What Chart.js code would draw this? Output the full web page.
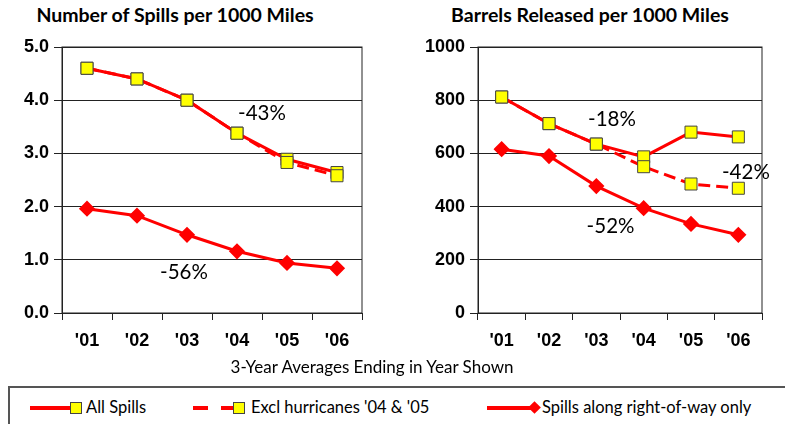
<!DOCTYPE html>
<html>
<head>
<meta charset="utf-8">
<script src="https://cdn.jsdelivr.net/npm/chart.js@4.4.0/dist/chart.umd.min.js"></script>
<style>
body{margin:0;background:#fff;width:785px;height:424px;overflow:hidden;position:relative;font-family:Lato,"Open Sans",sans-serif;color:#000}
.box{position:absolute;top:0;height:360px}
#leftBox{left:0;width:392px}
#rightBox{left:392px;width:393px}
.ttl{position:absolute;top:3px;font-weight:bold;font-size:19.5px;text-align:center;white-space:nowrap}
#xTitle{position:absolute;left:172px;width:400px;top:356px;text-align:center;font-size:17px}
#legend{position:absolute;left:8px;top:386px;width:800px;height:60px;border:2px solid #555;box-sizing:border-box}
.ln{position:absolute;height:4px;background:#f00}
.sq{position:absolute;width:12px;height:12px;background:#ff0;border:1px solid #444;box-sizing:border-box}
.dm{position:absolute;width:9px;height:9px;background:#f00;transform:rotate(45deg)}
.lt{position:absolute;top:397px;font-size:16.5px;white-space:nowrap}
</style>
</head>
<body>
<div class="ttl" style="left:0;width:350px">Number of Spills per 1000 Miles</div>
<div class="ttl" style="left:440px;width:300px">Barrels Released per 1000 Miles</div>
<div class="box" id="leftBox"><canvas id="spillsChart"></canvas></div>
<div class="box" id="rightBox"><canvas id="barrelsChart"></canvas></div>
<div id="xTitle">3-Year Averages Ending in Year Shown</div>
<div id="legend"></div>
<div class="ln" style="left:30px;top:406px;width:42px"></div>
<div class="sq" style="left:70px;top:402px"></div>
<div class="lt" style="left:86px">All Spills</div>
<div class="ln" style="left:193px;top:406px;width:15px"></div>
<div class="ln" style="left:221px;top:406px;width:13px"></div>
<div class="sq" style="left:233px;top:402px"></div>
<div class="lt" style="left:251px">Excl hurricanes '04 &amp; '05</div>
<div class="ln" style="left:487px;top:406px;width:44px"></div>
<div class="dm" style="left:530px;top:403px"></div>
<div class="lt" style="left:542px">Spills along right-of-way only</div>

<script>
// 3-year averages
const years = ["'01", "'02", "'03", "'04", "'05", "'06"];

const spillsAll = [4.6, 4.4, 4.0, 3.38, 2.89, 2.64];
const spillsExcl = [4.6, 4.4, 4.0, 3.38, 2.83, 2.58];
const spillsRow = [1.96, 1.83, 1.47, 1.16, 0.94, 0.84];

const barrelsAll = [812, 712, 635, 587, 680, 662];
const barrelsExcl = [812, 712, 635, 550, 485, 469];
const barrelsRow = [616, 590, 477, 394, 335, 294];

// % change labels: [text, category index, value]
const spillsNotes = [['-43%', 3.5, 3.76], ['-56%', 1.94, 0.77]];
const barrelsNotes = [['-18%', 2.33, 729], ['-52%', 2.3, 327], ['-42%', 5.16, 530]];

// box round the plot + the % labels
const framePlugin = {
    id: 'frame',
    beforeDatasetsDraw(chart) {
        const a = chart.chartArea, ctx = chart.ctx;
        ctx.save();
        ctx.strokeStyle = '#222';
        ctx.lineWidth = 1;
        ctx.strokeRect(a.left, a.top, a.right - a.left, a.bottom - a.top);
        ctx.restore();
    },
    afterDraw(chart, args, opts) {
        const ctx = chart.ctx;
        ctx.save();
        ctx.font = '20.5px Lato, "Open Sans", sans-serif';
        ctx.fillStyle = '#000';
        ctx.textAlign = 'center';
        ctx.textBaseline = 'middle';
        (opts.notes || []).forEach(n => {
            ctx.fillText(n[0], chart.scales.x.getPixelForValue(n[1]), chart.scales.y.getPixelForValue(n[2]));
        });
        ctx.restore();
    }
};

function makeChart(id, all, excl, row, yMax, yStep, dec, yWidth, padRight, notes) {
    return new Chart(id, {
        type: 'line',
        data: {
            labels: years,
            datasets: [{
                label: 'Excl hurricanes \'04 & \'05',
                data: excl,
                borderColor: '#f00',
                borderWidth: 3,
                borderDash: [12, 6],
                pointStyle: 'rect',
                pointRadius: 8.5,
                pointBackgroundColor: '#ff0',
                pointBorderColor: '#444',
                pointBorderWidth: 1,
                order: 0
            }, {
                label: 'All Spills',
                data: all,
                borderColor: '#f00',
                borderWidth: 3,
                pointStyle: 'rect',
                pointRadius: 8.5,
                pointBackgroundColor: '#ff0',
                pointBorderColor: '#444',
                pointBorderWidth: 1,
                order: 1
            }, {
                label: 'Spills along right-of-way only',
                data: row,
                borderColor: '#f00',
                borderWidth: 3,
                pointStyle: 'rectRot',
                pointRadius: 6,
                pointBackgroundColor: '#f00',
                pointBorderColor: '#f00',
                order: 2
            }]
        },
        plugins: [framePlugin],
        options: {
            responsive: true,
            maintainAspectRatio: false,
            animation: false,
            layout: {
                padding: {top: 47, right: padRight, left: 0, bottom: 0}
            },
            scales: {
                x: {
                    offset: true,
                    afterFit(s) { s.height = 47; },
                    grid: {
                        offset: true,
                        drawOnChartArea: false,
                        tickLength: 7,
                        color: '#222'
                    },
                    border: {color: '#222'},
                    ticks: {
                        color: '#000',
                        padding: 10,
                        font: {family: '"Liberation Sans", Arial, sans-serif', size: 18, weight: 'bold'}
                    }
                },
                y: {
                    min: 0,
                    max: yMax,
                    afterFit(s) { s.width = yWidth; },
                    grid: {
                        color: '#222',
                        tickLength: 8
                    },
                    border: {color: '#222'},
                    ticks: {
                        stepSize: yStep,
                        color: '#000',
                        padding: 5,
                        font: {family: '"Liberation Sans", Arial, sans-serif', size: 18, weight: 'bold'},
                        callback: v => v.toFixed(dec)
                    }
                }
            },
            plugins: {
                legend: {display: false},
                tooltip: {enabled: false},
                frame: {notes: notes}
            }
        }
    });
}

let spillsChart = makeChart('spillsChart', spillsAll, spillsExcl, spillsRow, 5, 1, 1, 62, 30, spillsNotes);
let barrelsChart = makeChart('barrelsChart', barrelsAll, barrelsExcl, barrelsRow, 1000, 200, 0, 86, 23, barrelsNotes);
</script>
</body>
</html>
